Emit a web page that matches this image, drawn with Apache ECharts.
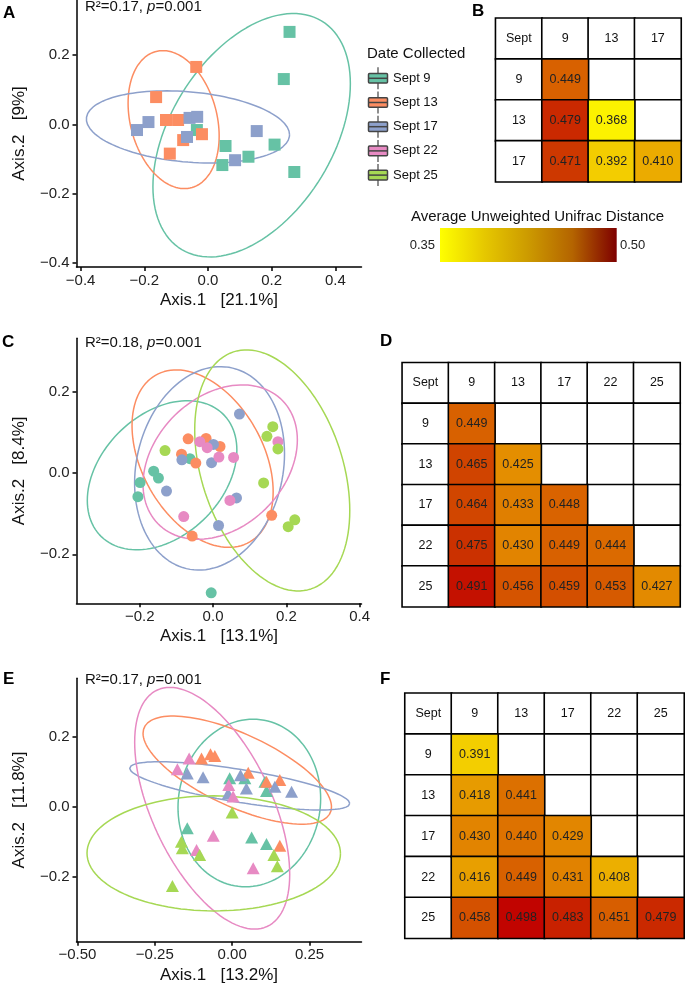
<!DOCTYPE html>
<html><head><meta charset="utf-8">
<script src="https://cdn.jsdelivr.net/npm/echarts@6/dist/echarts.min.js"></script>
<style>html,body{margin:0;padding:0;background:#fff}#c{width:685px;height:991px}</style>
</head><body><div id="c"></div>
<script>
const FONT = '"Liberation Sans", Arial, Helvetica, sans-serif';
const groupNames = ['Sept 9', 'Sept 13', 'Sept 17', 'Sept 22', 'Sept 25'];
const groupColors = ['#66C2A5', '#FC8D62', '#8DA0CB', '#E78AC3', '#A6D854'];

// ---------- Panel A (squares) ----------
const A_sept9  = [[0.256,0.267],[0.238,0.131],[-0.035,-0.016],[0.055,-0.062],[0.045,-0.117],[0.127,-0.093],[0.209,-0.058],[0.271,-0.137]];
const A_sept13 = [[-0.037,0.166],[-0.163,0.079],[-0.132,0.013],[-0.094,0.013],[-0.019,-0.028],[-0.078,-0.045],[-0.120,-0.084]];
const A_sept17 = [[-0.223,-0.016],[-0.187,0.007],[-0.058,0.019],[-0.034,0.022],[-0.066,-0.036],[0.085,-0.103],[0.153,-0.019]];
// ellipse: [centerX, centerY, halfWidthX, halfHeightY, x of topmost point]
const A_ell_sept9  = [0.137, -0.031, 0.310, 0.351, 0.268];
const A_ell_sept13 = [-0.108, 0.014, 0.143, 0.199, -0.142];
const A_ell_sept17 = [-0.063, -0.007, 0.319, 0.104, -0.132];
const A_xTicks = [-0.4, -0.2, 0, 0.2, 0.4];
const A_yTicks = [-0.4, -0.2, 0, 0.2];
const A_stat = 'R²=0.17, ';

// ---------- Panel C (circles) ----------
const C_sept9  = [[-0.063,0.036],[-0.162,0.005],[-0.149,-0.012],[-0.199,-0.023],[-0.205,-0.058],[-0.005,-0.295]];
const C_sept13 = [[-0.068,0.085],[-0.019,0.086],[-0.086,0.047],[-0.047,0.025],[0.019,0.066],[0.160,-0.104],[-0.057,-0.155]];
const C_sept17 = [[0.072,0.146],[0.001,0.071],[-0.085,0.033],[-0.004,0.026],[-0.127,-0.044],[0.064,-0.061],[0.015,-0.129]];
const C_sept22 = [[-0.036,0.078],[-0.016,0.063],[0.016,0.040],[0.056,0.039],[0.177,0.078],[0.046,-0.067],[-0.080,-0.107]];
const C_sept25 = [[0.163,0.115],[0.147,0.091],[0.177,0.060],[-0.131,0.056],[0.138,-0.024],[0.223,-0.115],[0.205,-0.132]];
const C_ell_sept9  = [-0.139, -0.005, 0.204, 0.184, -0.070];
const C_ell_sept13 = [-0.0285, 0.036, 0.1925, 0.219, -0.100];
const C_ell_sept17 = [-0.0095, 0.012, 0.2045, 0.251, 0.020];
const C_ell_sept22 = [0.0195, 0.0275, 0.2105, 0.1905, 0.080];
const C_ell_sept25 = [0.1615, 0.007, 0.2115, 0.2975, 0.091];
const C_xTicks = [-0.2, 0, 0.2, 0.4];
const C_yTicks = [-0.2, 0, 0.2];
const C_stat = 'R²=0.18, ';

// ---------- Panel E (triangles) ----------
const E_sept9  = [[-0.008,0.081],[0.041,0.081],[0.106,0.071],[0.111,0.045],[-0.145,-0.062],[0.063,-0.088],[0.111,-0.107]];
const E_sept13 = [[-0.099,0.138],[-0.070,0.150],[-0.056,0.145],[0.052,0.097],[0.111,0.071],[0.154,0.076],[0.154,-0.112]];
const E_sept17 = [[-0.145,0.095],[-0.094,0.084],[0.027,0.090],[0.046,0.052],[0.138,0.057],[0.192,0.043],[-0.013,0.038]];
const E_sept22 = [[-0.139,0.138],[-0.177,0.107],[-0.011,0.062],[0.003,0.029],[-0.061,-0.083],[-0.115,-0.124],[0.068,-0.176]];
const E_sept25 = [[0.000,-0.017],[-0.164,-0.100],[-0.161,-0.119],[-0.105,-0.138],[0.135,-0.138],[0.146,-0.170],[-0.193,-0.227]];
const E_ell_sept9  = [0.0555, 0.0105, 0.2305, 0.2395, 0.068];
const E_ell_sept13 = [0.0165, 0.1045, 0.3045, 0.1545, -0.191];
const E_ell_sept17 = [0.0245, 0.0595, 0.3555, 0.069, -0.234];
const E_ell_sept22 = [-0.0645, -0.0045, 0.2505, 0.3455, -0.2015];
const E_ell_sept25 = [-0.0595, -0.1335, 0.4095, 0.1645, -0.061];
const E_xTicks = [-0.5, -0.25, 0, 0.25];
const E_yTicks = [-0.2, 0, 0.2];
const E_stat = 'R²=0.17, ';

// ---------- Tables (average unweighted UniFrac distance) ----------
const B_labels = ['Sept', '9', '13', '17'];
const B_values = [[0.449], [0.479, 0.368], [0.471, 0.392, 0.410]];
const D_labels = ['Sept', '9', '13', '17', '22', '25'];
const D_values = [[0.449], [0.465, 0.425], [0.464, 0.433, 0.448], [0.475, 0.430, 0.449, 0.444], [0.491, 0.456, 0.459, 0.453, 0.427]];
const F_labels = ['Sept', '9', '13', '17', '22', '25'];
const F_values = [[0.391], [0.418, 0.441], [0.430, 0.440, 0.429], [0.416, 0.449, 0.431, 0.408], [0.458, 0.498, 0.483, 0.451, 0.479]];
const colorbarTicks = ['0.35', '0.50'];

// ================= build =================
const chart = echarts.init(document.getElementById('c'), null, {renderer: 'canvas'});
const grids = [], xAxes = [], yAxes = [], series = [], heatValueSeries = [];

function ellipsePoints(p) {
  const [cx, cy, rx, ry, xTop] = p;
  const c = Math.max(-1, Math.min(1, (xTop - cx) / rx));
  const phi = Math.acos(c);
  const pts = [];
  for (let i = 0; i <= 120; i++) {
    const t = i / 120 * 2 * Math.PI;
    pts.push([cx + rx * Math.cos(t), cy + ry * Math.cos(t - phi)]);
  }
  return pts;
}
const minus = s => s.replace('-', '\u2212');

function scatterPanel(box, xr, yr, xt, yt, dec, xName, yName, groups, ells, symbol, size) {
  const gi = grids.length;
  grids.push({left: box[0], top: box[1], width: box[2], height: box[3]});
  const common = {fontFamily: FONT};
  xAxes.push({
    gridIndex: gi, type: 'value', min: xr[0], max: xr[1],
    axisLine: {show: true, onZero: false, lineStyle: {color: '#000', width: 1.5}},
    axisTick: {show: true, length: 4, customValues: xt, lineStyle: {color: '#000', width: 1.5}},
    axisLabel: {customValues: xt, formatter: v => minus(v.toFixed(dec)), fontSize: 15, color: '#222', margin: 6, ...common},
    splitLine: {show: false},
    name: xName, nameLocation: 'middle', nameGap: 25,
    nameTextStyle: {fontSize: 17, color: '#111', ...common}
  });
  yAxes.push({
    gridIndex: gi, type: 'value', min: yr[0], max: yr[1],
    axisLine: {show: true, onZero: false, lineStyle: {color: '#000', width: 1.5}},
    axisTick: {show: true, length: 4, customValues: yt, lineStyle: {color: '#000', width: 1.5}},
    axisLabel: {customValues: yt, formatter: v => minus(v.toFixed(1)), fontSize: 15, color: '#222', margin: 7, ...common},
    splitLine: {show: false},
    name: yName, nameLocation: 'middle', nameGap: 49,
    nameTextStyle: {fontSize: 17, color: '#111', ...common}
  });
  groups.forEach((g, k) => {
    const col = groupColors[g.idx];
    series.push({
      type: 'line', xAxisIndex: gi, yAxisIndex: gi, data: ellipsePoints(ells[k]),
      showSymbol: false, symbol: 'none', silent: true, z: 2,
      lineStyle: {color: col, width: 1.5}
    });
  });
  groups.forEach(g => {
    series.push({
      type: 'scatter', xAxisIndex: gi, yAxisIndex: gi, data: g.data, name: groupNames[g.idx],
      symbol: symbol, symbolSize: size, z: 3,
      itemStyle: {color: groupColors[g.idx], opacity: 1}
    });
  });
}

scatterPanel([76.5, 0, 285, 267], [-0.413, 0.482], [-0.411, 0.359], A_xTicks, A_yTicks, 1,
  'Axis.1   [21.1%]', 'Axis.2   [9%]',
  [{idx: 0, data: A_sept9}, {idx: 1, data: A_sept13}, {idx: 2, data: A_sept17}],
  [A_ell_sept9, A_ell_sept13, A_ell_sept17], 'rect', 12);

scatterPanel([76.5, 338.3, 285, 265], [-0.3725, 0.405], [-0.321, 0.333], C_xTicks, C_yTicks, 1,
  'Axis.1   [13.1%]', 'Axis.2   [8.4%]',
  [{idx: 0, data: C_sept9}, {idx: 1, data: C_sept13}, {idx: 2, data: C_sept17}, {idx: 3, data: C_sept22}, {idx: 4, data: C_sept25}],
  [C_ell_sept9, C_ell_sept13, C_ell_sept17, C_ell_sept22, C_ell_sept25], 'circle', 11);

scatterPanel([76.5, 678.3, 285, 263.4], [-0.503, 0.418], [-0.386, 0.367], E_xTicks, E_yTicks, 2,
  'Axis.1   [13.2%]', 'Axis.2   [11.8%]',
  [{idx: 0, data: E_sept9}, {idx: 1, data: E_sept13}, {idx: 2, data: E_sept17}, {idx: 3, data: E_sept22}, {idx: 4, data: E_sept25}],
  [E_ell_sept9, E_ell_sept13, E_ell_sept17, E_ell_sept22, E_ell_sept25], 'triangle', [13, 12]);

function tablePanel(box, labels, values) {
  const gi = grids.length;
  grids.push({left: box[0], top: box[1], width: box[2], height: box[3]});
  xAxes.push({gridIndex: gi, type: 'category', data: labels, show: false});
  yAxes.push({gridIndex: gi, type: 'category', data: labels, show: false, inverse: true});
  const n = labels.length;
  const white = [], colored = [];
  for (let r = 0; r < n; r++) {
    for (let c = 0; c < n; c++) {
      if (r === 0) white.push({value: [c, r, 0], name: labels[c]});
      else if (c === 0) white.push({value: [c, r, 0], name: labels[r]});
      else if (c <= r) colored.push([c, r, values[r - 1][c - 1]]);
      else white.push({value: [c, r, 0], name: ''});
    }
  }
  series.push({
    type: 'heatmap', xAxisIndex: gi, yAxisIndex: gi, data: white,
    itemStyle: {color: '#ffffff', borderColor: '#000', borderWidth: 1.6},
    label: {show: true, formatter: p => p.name, fontSize: 12.5, color: '#111', fontFamily: FONT},
    emphasis: {disabled: true}
  });
  heatValueSeries.push(series.length);
  series.push({
    type: 'heatmap', xAxisIndex: gi, yAxisIndex: gi, data: colored,
    itemStyle: {borderColor: '#000', borderWidth: 1.6},
    label: {show: true, formatter: p => p.value[2].toFixed(3), fontSize: 12.5, color: '#222', fontFamily: FONT},
    emphasis: {disabled: true}
  });
}
tablePanel([495.7, 18.3, 185.3, 163.4], B_labels, B_values);
tablePanel([402.3, 362.7, 277.7, 244], D_labels, D_values);
tablePanel([405, 693.3, 279, 245], F_labels, F_values);

// ---------- graphic: letters, stats, legend, colour bar ----------
const graphic = [];
const letter = (t, x, y) => graphic.push({type: 'text', x, y, style: {text: t, font: 'bold 17px ' + FONT, fill: '#000', verticalAlign: 'middle'}});
letter('A', 3, 13); letter('C', 2, 342.5); letter('E', 3, 679);
letter('B', 472, 11); letter('D', 380, 341); letter('F', 380, 679);

const stat = (s, y) => graphic.push({type: 'text', x: 85, y, style: {
  text: '{n|' + s + '}{i|p}{n|=0.001}', verticalAlign: 'middle',
  rich: {n: {fontSize: 15, fontFamily: FONT, fill: '#111'}, i: {fontSize: 15, fontFamily: FONT, fontStyle: 'italic', fill: '#111'}}
}});
stat(A_stat, 7); stat(C_stat, 343.3); stat(E_stat, 680);

graphic.push({type: 'text', x: 367, y: 54, style: {text: 'Date Collected', font: '15px ' + FONT, fill: '#111', verticalAlign: 'middle'}});
groupNames.forEach((g, i) => {
  const yc = 78.3 + i * 24.2;
  graphic.push({type: 'line', shape: {x1: 378, y1: yc - 11, x2: 378, y2: yc + 11}, style: {stroke: '#444', lineWidth: 1.2}});
  graphic.push({type: 'rect', shape: {x: 368.5, y: yc - 4.8, width: 19, height: 9.6, r: 1}, style: {fill: groupColors[i], stroke: '#444', lineWidth: 1.5}});
  graphic.push({type: 'line', shape: {x1: 368.5, y1: yc, x2: 387.5, y2: yc}, style: {stroke: '#444', lineWidth: 1.5}});
  graphic.push({type: 'text', x: 393, y: yc, style: {text: g, font: '13px ' + FONT, fill: '#111', verticalAlign: 'middle'}});
});

graphic.push({type: 'text', x: 411, y: 217, style: {text: 'Average Unweighted Unifrac Distance', font: '15px ' + FONT, fill: '#111', verticalAlign: 'middle'}});
graphic.push({type: 'rect', shape: {x: 440, y: 228, width: 176.7, height: 34}, style: {
  fill: new echarts.graphic.LinearGradient(0, 0, 1, 0, [
    {offset: 0, color: '#FFFF00'}, {offset: 0.25, color: '#E6C800'}, {offset: 0.5, color: '#CC9A00'},
    {offset: 0.75, color: '#B46400'}, {offset: 1, color: '#7E0000'}])
}});
graphic.push({type: 'text', x: 435, y: 245, style: {text: colorbarTicks[0], font: '13px ' + FONT, fill: '#222', align: 'right', verticalAlign: 'middle'}});
graphic.push({type: 'text', x: 620, y: 245, style: {text: colorbarTicks[1], font: '13px ' + FONT, fill: '#222', verticalAlign: 'middle'}});

chart.setOption({
  animation: false,
  backgroundColor: '#fff',
  grid: grids, xAxis: xAxes, yAxis: yAxes, series: series,
  visualMap: {
    type: 'continuous', show: false, seriesIndex: heatValueSeries, dimension: 2,
    min: 0.36, max: 0.50,
    inRange: {color: ['#FFFF00', '#F2C800', '#E28400', '#D04400', '#C00000']}
  },
  graphic: graphic
});
</script></body></html>
